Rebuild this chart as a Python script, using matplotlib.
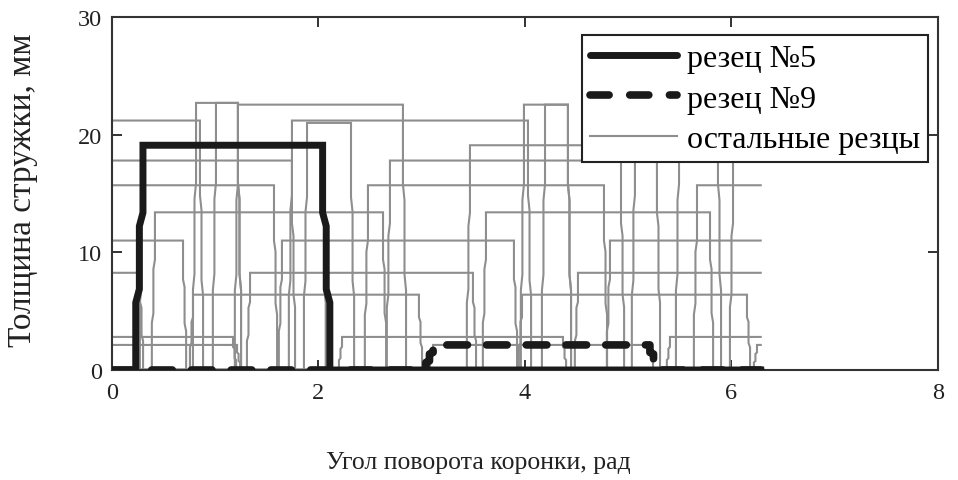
import numpy as np
import matplotlib
matplotlib.use("Agg")
import matplotlib.pyplot as plt
from matplotlib.lines import Line2D

plt.rcParams['font.family'] = ['Liberation Serif', 'DejaVu Serif']

TWO_PI = 2 * np.pi

# ---- data (angles in rad, chip thickness in mm) ----
# other cutters: start angle of full cut, end angle, thickness
gray_start = [0.00, 0.814, 1.007, 1.220, 0.00, 0.00, 0.416, 0.00, 0.00, 0.785,
              0.00, 0.00, 1.646, 1.337, 1.743, 1.889, 2.479, 2.692, 3.467, 3.622,
              3.990, 4.194, 3.971, 4.513, 4.823, 5.666, 5.404, 2.228, 6.247, 5.065,
              6.015, 5.492, 0.300, 3.110]
gray_end = [0.852, 1.220, 1.220, 2.818, 1.743, 1.569, 2.625, 0.688, 0.271, 2.973,
            1.172, 1.211, 3.893, 3.496, 4.029, 2.315, 4.765, 4.930, 5.278, 5.792,
            4.416, 4.416, 6.150, TWO_PI, TWO_PI, TWO_PI, TWO_PI, 4.368, TWO_PI, TWO_PI,
            TWO_PI, 5.869, 2.040, 5.210]
gray_height = [21.2, 22.7, 22.7, 22.55, 17.8, 15.7, 13.4, 11.0, 8.26, 6.4,
               2.81, 2.13, 11.0, 8.26, 21.2, 21.0, 15.7, 17.8, 19.1, 13.4,
               22.55, 22.55, 6.4, 8.26, 11.0, 15.7, 2.81, 2.81, 2.13, 21.2,
               17.8, 22.55, 19.1, 2.13]

cutter5 = {"start": 0.300, "end": 2.040, "height": 19.1}
cutter9 = {"start": 3.110, "end": 5.210, "height": 2.13}

x_ticks = [0, 2, 4, 6, 8]
y_ticks = [0, 10, 20, 30]
legend_labels = ["резец №5", "резец №9", "остальные резцы"]
x_label = "Угол поворота коронки, рад"
y_label = "Толщина стружки, мм"


def profile(s, e, h, w):
    fr = [0.0, 0.3, 0.36, 0.64, 0.7, 1.0]
    off = [-w, -w, -0.5 * w, -0.5 * w, 0.0, 0.0]
    xs, ys = [], []
    if s <= 0:
        xs.append(0.0); ys.append(h)
    else:
        xs.append(0.0); ys.append(0.0)
        for f, o in zip(fr, off):
            xs.append(s + o); ys.append(f * h)
    if e >= TWO_PI - 1e-6:
        xs.append(TWO_PI); ys.append(h)
    else:
        for f, o in zip(fr[::-1], off[::-1]):
            xs.append(e - o); ys.append(f * h)
        xs.append(TWO_PI); ys.append(0.0)
    return xs, ys


fig = plt.figure(figsize=(9.58, 4.81), dpi=100)
ax = fig.add_axes([0.1169, 0.2287, 0.8622, 0.7339])

gray = '#8e8e8e'
for s, e, h in zip(gray_start, gray_end, gray_height):
    xs, ys = profile(s, e, h, 0.03)
    ax.plot(xs, ys, color=gray, lw=1.5, solid_joinstyle='miter')

xs, ys = profile(cutter9["start"], cutter9["end"], cutter9["height"], 0.07)
ax.plot(xs, ys, color='#1a1a1a', lw=5.5, ls=(0, (2.7, 2.5)),
        dash_capstyle='round', solid_capstyle='round', zorder=3)

xs, ys = profile(cutter5["start"], cutter5["end"], cutter5["height"], 0.07)
ax.plot(xs, ys, color='#1a1a1a', lw=5.0, solid_joinstyle='miter', zorder=4)

ax.set_xlim(0, 8)
ax.set_ylim(0, 30)
ax.set_xticks(x_ticks)
ax.set_yticks(y_ticks)
ax.set_xticklabels([str(v) for v in x_ticks])
ax.set_yticklabels([str(v) for v in y_ticks])
ax.tick_params(direction='in', length=7, width=1.3, top=True, right=True,
               labelsize=17.5, colors='#222222')
ax.tick_params(axis='x', pad=9)
ax.tick_params(axis='y', pad=7)
for sp in ax.spines.values():
    sp.set_linewidth(1.5)
    sp.set_color('#333333')

ax.set_xlabel(x_label, fontsize=18.5, color='#222222', va='center', ha='center')
ax.xaxis.set_label_coords((478 - 112) / 826, (371 - 463) / 353)
ax.set_ylabel(y_label, fontsize=24, color='#222222', va='center', ha='center')
ax.yaxis.set_label_coords((23 - 112) / 826, (371 - 190) / 353)

handles = [
    Line2D([], [], color='#1a1a1a', lw=5.0, solid_capstyle='round'),
    Line2D([], [], color='#1a1a1a', lw=5.5, ls=(0, (2.5, 2.7)), dash_capstyle='round'),
    Line2D([], [], color=gray, lw=1.5),
]
leg = ax.legend(handles, legend_labels, loc='upper right',
                bbox_to_anchor=(0.988, 0.948), prop={'size': 23},
                fancybox=False, framealpha=1, edgecolor='#222222',
                borderpad=0.25, labelspacing=0.36, handlelength=2.75,
                handletextpad=0.3, borderaxespad=0)
leg.get_frame().set_linewidth(1.5)
leg.set_zorder(10)

fig.savefig('out.png', dpi=100)
